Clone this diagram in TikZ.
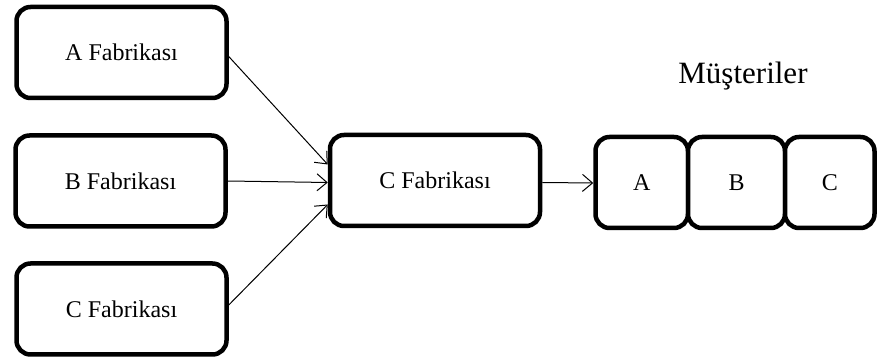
\documentclass[tikz,border=0pt]{standalone}
\usepackage{fontspec}
\setmainfont{Liberation Serif}
\usetikzlibrary{arrows.meta,calc}
\begin{document}
\begin{tikzpicture}[x=1pt,y=-1pt,
  box/.style={draw=black,line width=4.5pt,rounded corners=14pt,fill=white,
    minimum width=#1,minimum height=91pt,inner sep=0pt,font=\fontsize{24}{26}\selectfont},
  box/.default=210pt,
  flow/.style={line width=1pt,-{Straight Barb[length=10pt,width=17pt,line width=1pt]}}]
  \useasboundingbox (0,0) rectangle (879,363);
  % supplier plants
  \node[box] (fa) at (121.5,52.5) {A Fabrikası};
  \node[box] (fb) at (120.5,181) {B Fabrikası};
  \node[box] (fc) at (121.5,309) {C Fabrikası};
  % receiving plant
  \node[box] (mid) at (435,180.5) {C Fabrikası};
  % customers, sharing their side borders
  \node[box=92.5pt] (ca) at (641.75,182.5) {A};
  \node[box=97pt] (cb) at (736.5,182.5) {B};
  \node[box=89.5pt] (cc) at (829.75,182.5) {C};
  \node[font=\fontsize{31}{34}\selectfont] (lbl) at (743,76) {Müşteriler};
  % connectors
  \draw[flow] ($(fa.east)+(0,4)$) -- ($(mid.west)+(0,-16)$);
  \draw[flow] (fb.east) -- ($(mid.west)+(0,2)$);
  \draw[flow] ($(fc.east)+(0,-4)$) -- ($(mid.west)+(0,24)$);
  \draw[flow] ($(mid.east)+(0,2)$) -- ($(ca.west)+(0,0.5)$);
\end{tikzpicture}
\end{document}
